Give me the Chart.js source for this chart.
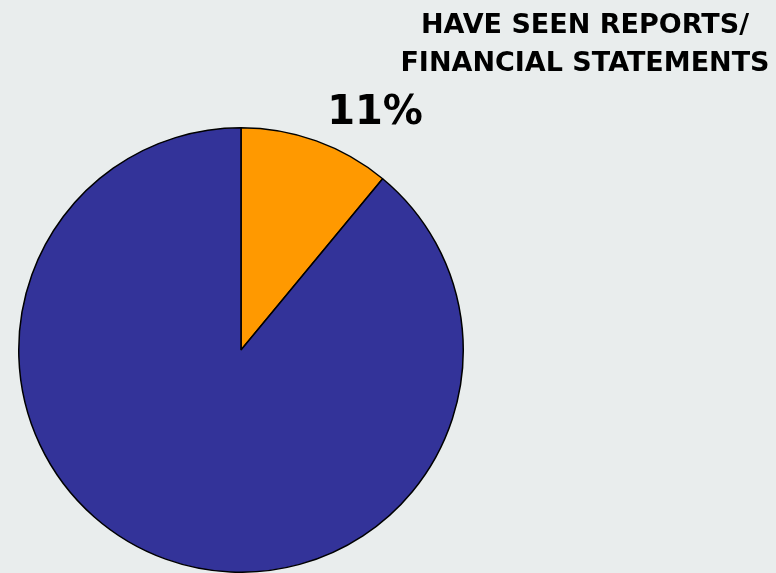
<!DOCTYPE html>
<html>
<head>
<meta charset="utf-8">
<script src="https://cdn.jsdelivr.net/npm/chart.js@4"></script>
<style>
  html, body { margin: 0; padding: 0; background: #e9eded; }
  #wrap { width: 776px; height: 573px; position: relative; }
</style>
</head>
<body>
<div id="wrap"><canvas id="pie"></canvas></div>
<script>
const sliceLabels = ['Have seen', 'Have not seen'];
const sliceValues = [11, 89];
const sliceColors = ['#ff9900', '#333399'];
const titleLines = ['HAVE SEEN REPORTS/', 'FINANCIAL STATEMENTS'];

// title + percentage of the first slice, drawn on top of the pie
const textPlugin = {
    id: 'pieText',
    afterDraw(chart) {
        const ctx = chart.ctx;
        ctx.save();
        ctx.fillStyle = '#000';
        ctx.textBaseline = 'alphabetic';
        ctx.textAlign = 'center';
        ctx.font = 'bold 27px "DejaVu Sans", Verdana, sans-serif';
        ctx.fillText(titleLines[0], 585, 33);
        ctx.fillText(titleLines[1], 585, 71);

        const total = sliceValues.reduce((a, b) => a + b, 0);
        const pct = Math.round(sliceValues[0] / total * 100) + '%';
        ctx.font = 'bold 40px "DejaVu Sans", Verdana, sans-serif';
        ctx.fillText(pct, 375, 124);
        ctx.restore();
    }
};

new Chart(document.getElementById('pie'), {
    type: 'pie',
    data: {
        labels: sliceLabels,
        datasets: [{
            data: sliceValues,
            backgroundColor: sliceColors,
            borderColor: '#000',
            borderWidth: 1.5
        }]
    },
    options: {
        responsive: true,
        maintainAspectRatio: false,
        animation: false,
        layout: { padding: { left: 17, right: 311, top: 127, bottom: 0 } },
        plugins: {
            legend: { display: false },
            tooltip: { enabled: false }
        }
    },
    plugins: [textPlugin]
});
</script>
</body>
</html>
